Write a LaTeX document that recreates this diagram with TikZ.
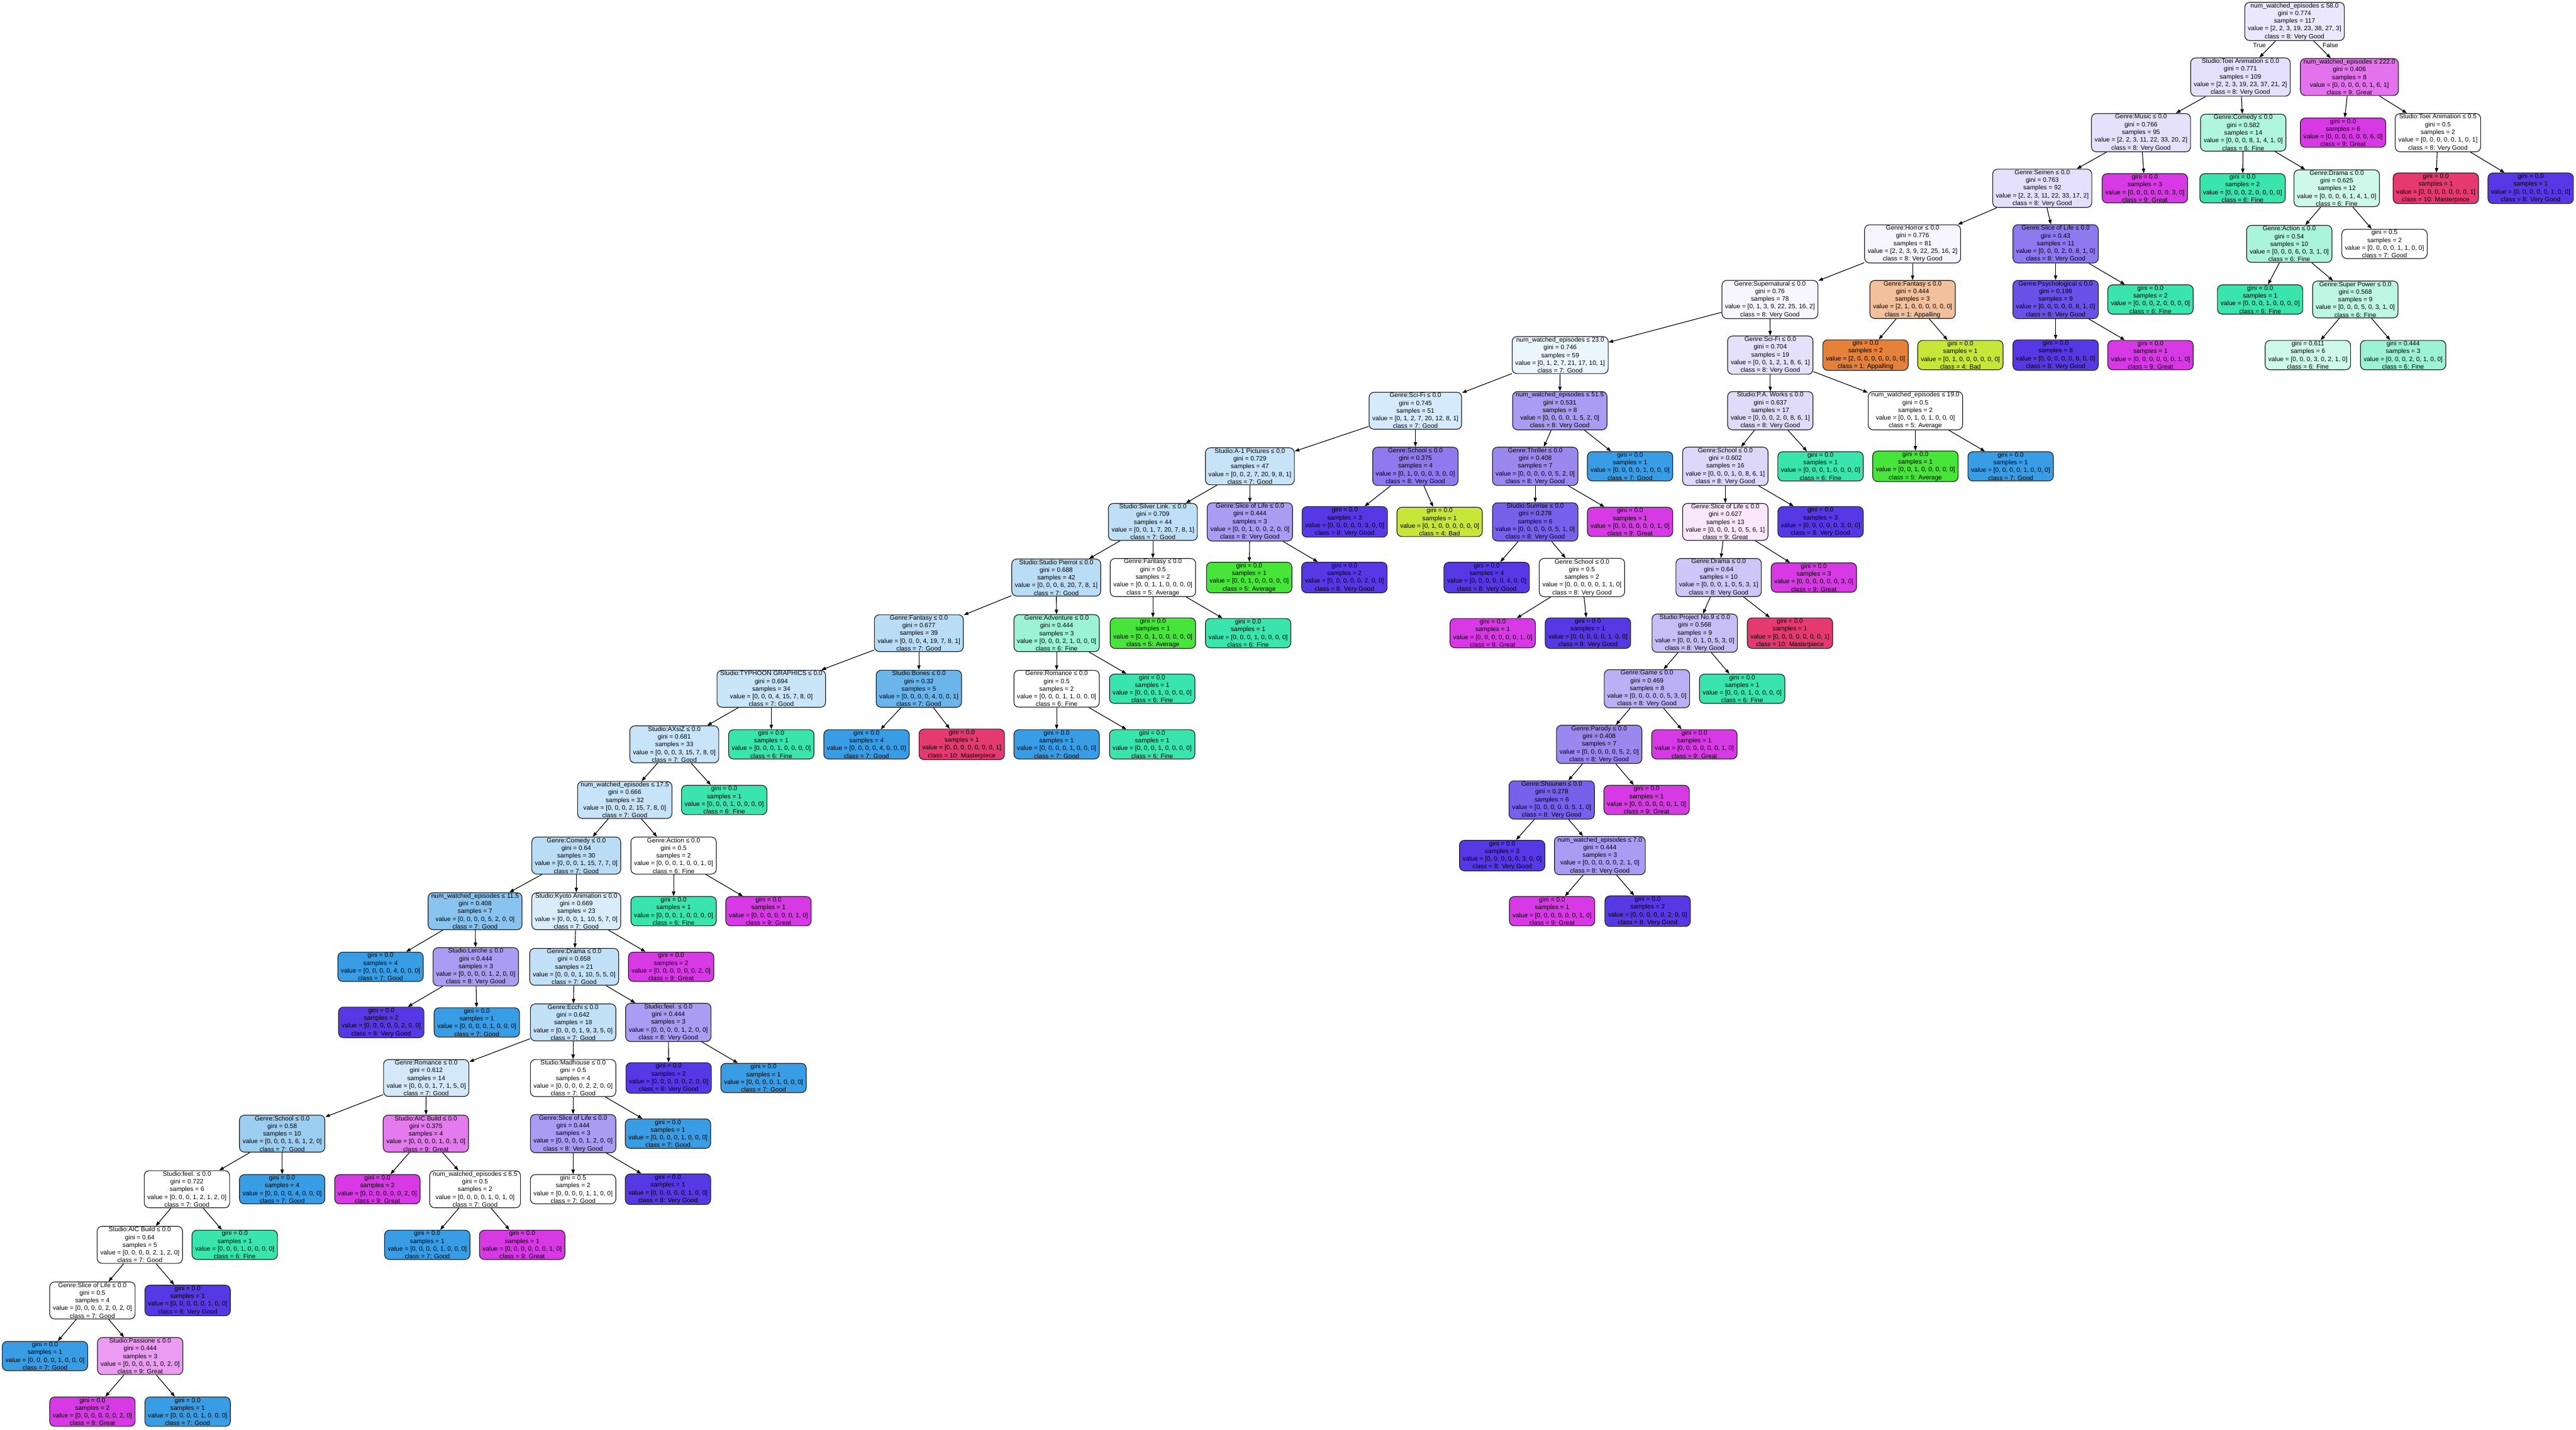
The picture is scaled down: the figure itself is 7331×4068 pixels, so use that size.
\documentclass[tikz,border=0pt]{standalone}
\usepackage{fontspec}
\setmainfont{Liberation Sans}
\usetikzlibrary{arrows.meta}
\definecolor{clAppal}{RGB}{229,129,57}
\definecolor{clBad}{RGB}{200,229,57}
\definecolor{clAvg}{RGB}{71,229,57}
\definecolor{clFine}{RGB}{57,229,172}
\definecolor{clGood}{RGB}{57,157,229}
\definecolor{clVG}{RGB}{86,57,229}
\definecolor{clGreat}{RGB}{215,57,229}
\definecolor{clMaster}{RGB}{229,57,114}
\tikzset{
  box/.style={draw=black!85, line width=0.6pt, rounded corners=0.14cm, align=center,
    font=\fontsize{5.15}{6.24}\selectfont, inner xsep=0.09cm, inner ysep=0.6pt},
  edge/.style={line width=0.55pt, -{Triangle[length=0.13cm,width=0.095cm]}},
  lbl/.style={font=\fontsize{5.15}{6.24}\selectfont, inner sep=0pt}
}
\newcommand{\DecNode}[9]{\node[box,fill=#4] (#1) at (#2,{61+158.2*#3}) {#5\\gini = #6\\samples = #7\\value = [#8]\\class = #9};}
\newcommand{\LeafNode}[8]{\node[box,fill=#4] (#1) at (#2,{61+158.2*#3}) {gini = #5\\samples = #6\\value = [#7]\\class = #8};}
\begin{document}
\begin{tikzpicture}[x=0.01cm,y=-0.01cm]
\fill[white] (0,0) rectangle (7331,4068);
\useasboundingbox (0,0) rectangle (7331,4068);
\DecNode{n0}{6530}{0}{clVG!12!white}{num\_watched\_episodes ≤ 58.0}{0.774}{117}{2, 2, 3, 19, 23, 38, 27, 3}{8: Very Good}
\DecNode{n1}{6376}{1}{clVG!16!white}{Studio:Toei Animation ≤ 0.0}{0.771}{109}{2, 2, 3, 19, 23, 37, 21, 2}{8: Very Good}
\DecNode{n2}{6686}{1}{clGreat!71!white}{num\_watched\_episodes ≤ 222.0}{0.406}{8}{0, 0, 0, 0, 0, 1, 6, 1}{9: Great}
\DecNode{n3}{6093}{2}{clVG!15!white}{Genre:Music ≤ 0.0}{0.766}{95}{2, 2, 3, 11, 22, 33, 20, 2}{8: Very Good}
\DecNode{n4}{6384}{2}{clFine!40!white}{Genre:Comedy ≤ 0.0}{0.582}{14}{0, 0, 0, 8, 1, 4, 1, 0}{6: Fine}
\LeafNode{n5}{6668}{2}{clGreat}{0.0}{6}{0, 0, 0, 0, 0, 0, 6, 0}{9: Great}
\DecNode{n6}{6938}{2}{white}{Studio:Toei Animation ≤ 0.5}{0.5}{2}{0, 0, 0, 0, 0, 1, 0, 1}{8: Very Good}
\DecNode{n7}{5812}{3}{clVG!16!white}{Genre:Seinen ≤ 0.0}{0.763}{92}{2, 2, 3, 11, 22, 33, 17, 2}{8: Very Good}
\LeafNode{n8}{6104}{3}{clGreat}{0.0}{3}{0, 0, 0, 0, 0, 0, 3, 0}{9: Great}
\LeafNode{n9}{6382}{3}{clFine}{0.0}{2}{0, 0, 0, 2, 0, 0, 0, 0}{6: Fine}
\DecNode{n10}{6650}{3}{clFine!25!white}{Genre:Drama ≤ 0.0}{0.625}{12}{0, 0, 0, 6, 1, 4, 1, 0}{6: Fine}
\LeafNode{n11}{6932}{3}{clMaster}{0.0}{1}{0, 0, 0, 0, 0, 0, 0, 1}{10: Masterpiece}
\LeafNode{n12}{7202}{3}{clVG}{0.0}{1}{0, 0, 0, 0, 0, 1, 0, 0}{8: Very Good}
\DecNode{n13}{5443}{4}{clVG!5!white}{Genre:Horror ≤ 0.0}{0.776}{81}{2, 2, 3, 9, 22, 25, 16, 2}{8: Very Good}
\DecNode{n14}{5850}{4}{clVG!67!white}{Genre:Slice of Life ≤ 0.0}{0.43}{11}{0, 0, 0, 2, 0, 8, 1, 0}{8: Very Good}
\DecNode{n15}{6515}{4}{clFine!43!white}{Genre:Action ≤ 0.0}{0.54}{10}{0, 0, 0, 6, 0, 3, 1, 0}{6: Fine}
\LeafNode{n16}{6786}{4}{white}{0.5}{2}{0, 0, 0, 0, 1, 1, 0, 0}{7: Good}
\DecNode{n17}{5037}{5}{clVG!5!white}{Genre:Supernatural ≤ 0.0}{0.76}{78}{0, 1, 3, 9, 22, 25, 16, 2}{8: Very Good}
\DecNode{n18}{5443}{5}{clAppal!50!white}{Genre:Fantasy ≤ 0.0}{0.444}{3}{2, 1, 0, 0, 0, 0, 0, 0}{1: Appalling}
\DecNode{n19}{5850}{5}{clVG!88!white}{Genre:Psychological ≤ 0.0}{0.198}{9}{0, 0, 0, 0, 0, 8, 1, 0}{8: Very Good}
\LeafNode{n20}{6120}{5}{clFine}{0.0}{2}{0, 0, 0, 2, 0, 0, 0, 0}{6: Fine}
\LeafNode{n21}{6432}{5}{clFine}{0.0}{1}{0, 0, 0, 1, 0, 0, 0, 0}{6: Fine}
\DecNode{n22}{6703}{5}{clFine!33!white}{Genre:Super Power ≤ 0.0}{0.568}{9}{0, 0, 0, 5, 0, 3, 1, 0}{6: Fine}
\DecNode{n23}{4440}{6}{clGood!10!white}{num\_watched\_episodes ≤ 23.0}{0.746}{59}{0, 1, 2, 7, 21, 17, 10, 1}{7: Good}
\DecNode{n24}{5038}{6}{clVG!15!white}{Genre:Sci-Fi ≤ 0.0}{0.704}{19}{0, 0, 1, 2, 1, 8, 6, 1}{8: Very Good}
\LeafNode{n25}{5309}{6}{clAppal}{0.0}{2}{2, 0, 0, 0, 0, 0, 0, 0}{1: Appalling}
\LeafNode{n26}{5579}{6}{clBad}{0.0}{1}{0, 1, 0, 0, 0, 0, 0, 0}{4: Bad}
\LeafNode{n27}{5850}{6}{clVG}{0.0}{8}{0, 0, 0, 0, 0, 8, 0, 0}{8: Very Good}
\LeafNode{n28}{6120}{6}{clGreat}{0.0}{1}{0, 0, 0, 0, 0, 0, 1, 0}{9: Great}
\LeafNode{n29}{6568}{6}{clFine!25!white}{0.611}{6}{0, 0, 0, 3, 0, 2, 1, 0}{6: Fine}
\LeafNode{n30}{6839}{6}{clFine!50!white}{0.444}{3}{0, 0, 0, 2, 0, 1, 0, 0}{6: Fine}
\DecNode{n31}{4028}{7}{clGood!21!white}{Genre:Sci-Fi ≤ 0.0}{0.745}{51}{0, 1, 2, 7, 20, 12, 8, 1}{7: Good}
\DecNode{n32}{4439}{7}{clVG!50!white}{num\_watched\_episodes ≤ 51.5}{0.531}{8}{0, 0, 0, 0, 1, 5, 2, 0}{8: Very Good}
\DecNode{n33}{5038}{7}{clVG!18!white}{Studio:P.A. Works ≤ 0.0}{0.637}{17}{0, 0, 0, 2, 0, 8, 6, 1}{8: Very Good}
\DecNode{n34}{5451}{7}{white}{num\_watched\_episodes ≤ 19.0}{0.5}{2}{0, 0, 1, 0, 1, 0, 0, 0}{5: Average}
\DecNode{n35}{3557}{8}{clGood!29!white}{Studio:A-1 Pictures ≤ 0.0}{0.729}{47}{0, 0, 2, 7, 20, 9, 8, 1}{7: Good}
\DecNode{n36}{4028}{8}{clVG!67!white}{Genre:School ≤ 0.0}{0.375}{4}{0, 1, 0, 0, 0, 3, 0, 0}{8: Very Good}
\DecNode{n37}{4369}{8}{clVG!60!white}{Genre:Thriller ≤ 0.0}{0.408}{7}{0, 0, 0, 0, 0, 5, 2, 0}{8: Very Good}
\LeafNode{n38}{4639}{8}{clGood}{0.0}{1}{0, 0, 0, 0, 1, 0, 0, 0}{7: Good}
\DecNode{n39}{4910}{8}{clVG!20!white}{Genre:School ≤ 0.0}{0.602}{16}{0, 0, 0, 1, 0, 8, 6, 1}{8: Very Good}
\LeafNode{n40}{5181}{8}{clFine}{0.0}{1}{0, 0, 0, 1, 0, 0, 0, 0}{6: Fine}
\LeafNode{n41}{5451}{8}{clAvg}{0.0}{1}{0, 0, 1, 0, 0, 0, 0, 0}{5: Average}
\LeafNode{n42}{5722}{8}{clGood}{0.0}{1}{0, 0, 0, 0, 1, 0, 0, 0}{7: Good}
\DecNode{n43}{3281}{9}{clGood!33!white}{Studio:Silver Link. ≤ 0.0}{0.709}{44}{0, 0, 1, 7, 20, 7, 8, 1}{7: Good}
\DecNode{n44}{3557}{9}{clVG!50!white}{Genre:Slice of Life ≤ 0.0}{0.444}{3}{0, 0, 1, 0, 0, 2, 0, 0}{8: Very Good}
\LeafNode{n45}{3827}{9}{clVG}{0.0}{3}{0, 0, 0, 0, 0, 3, 0, 0}{8: Very Good}
\LeafNode{n46}{4097}{9}{clBad}{0.0}{1}{0, 1, 0, 0, 0, 0, 0, 0}{4: Bad}
\DecNode{n47}{4369}{9}{clVG!80!white}{Studio:Sunrise ≤ 0.0}{0.278}{6}{0, 0, 0, 0, 0, 5, 1, 0}{8: Very Good}
\LeafNode{n48}{4639}{9}{clGreat}{0.0}{1}{0, 0, 0, 0, 0, 0, 1, 0}{9: Great}
\DecNode{n49}{4910}{9}{clGreat!12!white}{Genre:Slice of Life ≤ 0.0}{0.627}{13}{0, 0, 0, 1, 0, 5, 6, 1}{9: Great}
\LeafNode{n50}{5181}{9}{clVG}{0.0}{3}{0, 0, 0, 0, 0, 3, 0, 0}{8: Very Good}
\DecNode{n51}{3006}{10}{clGood!35!white}{Studio:Studio Pierrot ≤ 0.0}{0.688}{42}{0, 0, 0, 6, 20, 7, 8, 1}{7: Good}
\DecNode{n52}{3281}{10}{white}{Genre:Fantasy ≤ 0.0}{0.5}{2}{0, 0, 1, 1, 0, 0, 0, 0}{5: Average}
\LeafNode{n53}{3555}{10}{clAvg}{0.0}{1}{0, 0, 1, 0, 0, 0, 0, 0}{5: Average}
\LeafNode{n54}{3826}{10}{clVG}{0.0}{2}{0, 0, 0, 0, 0, 2, 0, 0}{8: Very Good}
\LeafNode{n55}{4231}{10}{clVG}{0.0}{4}{0, 0, 0, 0, 0, 4, 0, 0}{8: Very Good}
\DecNode{n56}{4502}{10}{white}{Genre:School ≤ 0.0}{0.5}{2}{0, 0, 0, 0, 0, 1, 1, 0}{8: Very Good}
\DecNode{n57}{4891}{10}{clVG!29!white}{Genre:Drama ≤ 0.0}{0.64}{10}{0, 0, 0, 1, 0, 5, 3, 1}{8: Very Good}
\LeafNode{n58}{5162}{10}{clGreat}{0.0}{3}{0, 0, 0, 0, 0, 0, 3, 0}{9: Great}
\DecNode{n59}{2615}{11}{clGood!35!white}{Genre:Fantasy ≤ 0.0}{0.677}{39}{0, 0, 0, 4, 19, 7, 8, 1}{7: Good}
\DecNode{n60}{3007}{11}{clFine!50!white}{Genre:Adventure ≤ 0.0}{0.444}{3}{0, 0, 0, 2, 1, 0, 0, 0}{6: Fine}
\LeafNode{n61}{3281}{11}{clAvg}{0.0}{1}{0, 0, 1, 0, 0, 0, 0, 0}{5: Average}
\LeafNode{n62}{3552}{11}{clFine}{0.0}{1}{0, 0, 0, 1, 0, 0, 0, 0}{6: Fine}
\LeafNode{n63}{4248}{11}{clGreat}{0.0}{1}{0, 0, 0, 0, 0, 0, 1, 0}{9: Great}
\LeafNode{n64}{4519}{11}{clVG}{0.0}{1}{0, 0, 0, 0, 0, 1, 0, 0}{8: Very Good}
\DecNode{n65}{4823}{11}{clVG!33!white}{Studio:Project No.9 ≤ 0.0}{0.568}{9}{0, 0, 0, 1, 0, 5, 3, 0}{8: Very Good}
\LeafNode{n66}{5094}{11}{clMaster}{0.0}{1}{0, 0, 0, 0, 0, 0, 0, 1}{10: Masterpiece}
\DecNode{n67}{2195}{12}{clGood!27!white}{Studio:TYPHOON GRAPHICS ≤ 0.0}{0.694}{34}{0, 0, 0, 4, 15, 7, 8, 0}{7: Good}
\DecNode{n68}{2615}{12}{clGood!75!white}{Studio:Bones ≤ 0.0}{0.32}{5}{0, 0, 0, 0, 4, 0, 0, 1}{7: Good}
\DecNode{n69}{3007}{12}{white}{Genre:Romance ≤ 0.0}{0.5}{2}{0, 0, 0, 1, 1, 0, 0, 0}{6: Fine}
\LeafNode{n70}{3279}{12}{clFine}{0.0}{1}{0, 0, 0, 1, 0, 0, 0, 0}{6: Fine}
\DecNode{n71}{4687}{12}{clVG!40!white}{Genre:Game ≤ 0.0}{0.469}{8}{0, 0, 0, 0, 0, 5, 3, 0}{8: Very Good}
\LeafNode{n72}{4958}{12}{clFine}{0.0}{1}{0, 0, 0, 1, 0, 0, 0, 0}{6: Fine}
\DecNode{n73}{1919}{13}{clGood!28!white}{Studio:AXsiZ ≤ 0.0}{0.681}{33}{0, 0, 0, 3, 15, 7, 8, 0}{7: Good}
\LeafNode{n74}{2195}{13}{clFine}{0.0}{1}{0, 0, 0, 1, 0, 0, 0, 0}{6: Fine}
\LeafNode{n75}{2466}{13}{clGood}{0.0}{4}{0, 0, 0, 0, 4, 0, 0, 0}{7: Good}
\LeafNode{n76}{2737}{13}{clMaster}{0.0}{1}{0, 0, 0, 0, 0, 0, 0, 1}{10: Masterpiece}
\LeafNode{n77}{3007}{13}{clGood}{0.0}{1}{0, 0, 0, 0, 1, 0, 0, 0}{7: Good}
\LeafNode{n78}{3279}{13}{clFine}{0.0}{1}{0, 0, 0, 1, 0, 0, 0, 0}{6: Fine}
\DecNode{n79}{4551}{13}{clVG!60!white}{Genre:Parody ≤ 0.0}{0.408}{7}{0, 0, 0, 0, 0, 5, 2, 0}{8: Very Good}
\LeafNode{n80}{4822}{13}{clGreat}{0.0}{1}{0, 0, 0, 0, 0, 0, 1, 0}{9: Great}
\DecNode{n81}{1778}{14}{clGood!29!white}{num\_watched\_episodes ≤ 17.5}{0.666}{32}{0, 0, 0, 2, 15, 7, 8, 0}{7: Good}
\LeafNode{n82}{2061}{14}{clFine}{0.0}{1}{0, 0, 0, 1, 0, 0, 0, 0}{6: Fine}
\DecNode{n83}{4416}{14}{clVG!80!white}{Genre:Shounen ≤ 0.0}{0.278}{6}{0, 0, 0, 0, 0, 5, 1, 0}{8: Very Good}
\LeafNode{n84}{4686}{14}{clGreat}{0.0}{1}{0, 0, 0, 0, 0, 0, 1, 0}{9: Great}
\DecNode{n85}{1640}{15}{clGood!35!white}{Genre:Comedy ≤ 0.0}{0.64}{30}{0, 0, 0, 1, 15, 7, 7, 0}{7: Good}
\DecNode{n86}{1917}{15}{white}{Genre:Action ≤ 0.0}{0.5}{2}{0, 0, 0, 1, 0, 0, 1, 0}{6: Fine}
\LeafNode{n87}{4275}{15}{clVG}{0.0}{3}{0, 0, 0, 0, 0, 3, 0, 0}{8: Very Good}
\DecNode{n88}{4553}{15}{clVG!50!white}{num\_watched\_episodes ≤ 7.0}{0.444}{3}{0, 0, 0, 0, 0, 2, 1, 0}{8: Very Good}
\DecNode{n89}{1352}{16}{clGood!60!white}{num\_watched\_episodes ≤ 11.5}{0.408}{7}{0, 0, 0, 0, 5, 2, 0, 0}{7: Good}
\DecNode{n90}{1640}{16}{clGood!19!white}{Studio:Kyoto Animation ≤ 0.0}{0.669}{23}{0, 0, 0, 1, 10, 5, 7, 0}{7: Good}
\LeafNode{n91}{1917}{16}{clFine}{0.0}{1}{0, 0, 0, 1, 0, 0, 0, 0}{6: Fine}
\LeafNode{n92}{2187}{16}{clGreat}{0.0}{1}{0, 0, 0, 0, 0, 0, 1, 0}{9: Great}
\LeafNode{n93}{4417}{16}{clGreat}{0.0}{1}{0, 0, 0, 0, 0, 0, 1, 0}{9: Great}
\LeafNode{n94}{4689}{16}{clVG}{0.0}{2}{0, 0, 0, 0, 0, 2, 0, 0}{8: Very Good}
\LeafNode{n95}{1083}{17}{clGood}{0.0}{4}{0, 0, 0, 0, 4, 0, 0, 0}{7: Good}
\DecNode{n96}{1354}{17}{clVG!50!white}{Studio:Lerche ≤ 0.0}{0.444}{3}{0, 0, 0, 0, 1, 2, 0, 0}{8: Very Good}
\DecNode{n97}{1634}{17}{clGood!31!white}{Genre:Drama ≤ 0.0}{0.658}{21}{0, 0, 0, 1, 10, 5, 5, 0}{7: Good}
\LeafNode{n98}{1910}{17}{clGreat}{0.0}{2}{0, 0, 0, 0, 0, 0, 2, 0}{9: Great}
\LeafNode{n99}{1085}{18}{clVG}{0.0}{2}{0, 0, 0, 0, 0, 2, 0, 0}{8: Very Good}
\LeafNode{n100}{1357}{18}{clGood}{0.0}{1}{0, 0, 0, 0, 1, 0, 0, 0}{7: Good}
\DecNode{n101}{1631}{18}{clGood!31!white}{Genre:Ecchi ≤ 0.0}{0.642}{18}{0, 0, 0, 1, 9, 3, 5, 0}{7: Good}
\DecNode{n102}{1902}{18}{clVG!50!white}{Studio:feel. ≤ 0.0}{0.444}{3}{0, 0, 0, 0, 1, 2, 0, 0}{8: Very Good}
\DecNode{n103}{1213}{19}{clGood!22!white}{Genre:Romance ≤ 0.0}{0.612}{14}{0, 0, 0, 1, 7, 1, 5, 0}{7: Good}
\DecNode{n104}{1631}{19}{white}{Studio:Madhouse ≤ 0.0}{0.5}{4}{0, 0, 0, 0, 2, 2, 0, 0}{7: Good}
\LeafNode{n105}{1903}{19}{clVG}{0.0}{2}{0, 0, 0, 0, 0, 2, 0, 0}{8: Very Good}
\LeafNode{n106}{2173}{19}{clGood}{0.0}{1}{0, 0, 0, 0, 1, 0, 0, 0}{7: Good}
\DecNode{n107}{803}{20}{clGood!50!white}{Genre:School ≤ 0.0}{0.58}{10}{0, 0, 0, 1, 6, 1, 2, 0}{7: Good}
\DecNode{n108}{1212}{20}{clGreat!67!white}{Studio:AIC Build ≤ 0.0}{0.375}{4}{0, 0, 0, 0, 1, 0, 3, 0}{9: Great}
\DecNode{n109}{1631}{20}{clVG!50!white}{Genre:Slice of Life ≤ 0.0}{0.444}{3}{0, 0, 0, 0, 1, 2, 0, 0}{8: Very Good}
\LeafNode{n110}{1901}{20}{clGood}{0.0}{1}{0, 0, 0, 0, 1, 0, 0, 0}{7: Good}
\DecNode{n111}{532}{21}{white}{Studio:feel. ≤ 0.0}{0.722}{6}{0, 0, 0, 1, 2, 1, 2, 0}{7: Good}
\LeafNode{n112}{803}{21}{clGood}{0.0}{4}{0, 0, 0, 0, 4, 0, 0, 0}{7: Good}
\LeafNode{n113}{1074}{21}{clGreat}{0.0}{2}{0, 0, 0, 0, 0, 0, 2, 0}{9: Great}
\DecNode{n114}{1352}{21}{white}{num\_watched\_episodes ≤ 6.5}{0.5}{2}{0, 0, 0, 0, 1, 0, 1, 0}{7: Good}
\LeafNode{n115}{1631}{21}{white}{0.5}{2}{0, 0, 0, 0, 1, 1, 0, 0}{7: Good}
\LeafNode{n116}{1901}{21}{clVG}{0.0}{1}{0, 0, 0, 0, 0, 1, 0, 0}{8: Very Good}
\DecNode{n117}{398}{22}{white}{Studio:AIC Build ≤ 0.0}{0.64}{5}{0, 0, 0, 0, 2, 1, 2, 0}{7: Good}
\LeafNode{n118}{668}{22}{clFine}{0.0}{1}{0, 0, 0, 1, 0, 0, 0, 0}{6: Fine}
\LeafNode{n119}{1216}{22}{clGood}{0.0}{1}{0, 0, 0, 0, 1, 0, 0, 0}{7: Good}
\LeafNode{n120}{1486}{22}{clGreat}{0.0}{1}{0, 0, 0, 0, 0, 0, 1, 0}{9: Great}
\DecNode{n121}{263}{23}{white}{Genre:Slice of Life ≤ 0.0}{0.5}{4}{0, 0, 0, 0, 2, 0, 2, 0}{7: Good}
\LeafNode{n122}{534}{23}{clVG}{0.0}{1}{0, 0, 0, 0, 0, 1, 0, 0}{8: Very Good}
\LeafNode{n123}{128}{24}{clGood}{0.0}{1}{0, 0, 0, 0, 1, 0, 0, 0}{7: Good}
\DecNode{n124}{399}{24}{clGreat!50!white}{Studio:Passione ≤ 0.0}{0.444}{3}{0, 0, 0, 0, 1, 0, 2, 0}{9: Great}
\LeafNode{n125}{263}{25}{clGreat}{0.0}{2}{0, 0, 0, 0, 0, 0, 2, 0}{9: Great}
\LeafNode{n126}{534}{25}{clGood}{0.0}{1}{0, 0, 0, 0, 1, 0, 0, 0}{7: Good}
\node[lbl] (ltrue) at (6430,129) {True};
\node[lbl] (lfalse) at (6632,129) {False};
\foreach \p/\c in {n0/n1,n0/n2,n1/n3,n1/n4,n2/n5,n2/n6,n3/n7,n3/n8,n4/n9,n4/n10,
  n6/n11,n6/n12,n7/n13,n7/n14,n10/n15,n10/n16,n13/n17,n13/n18,n14/n19,n14/n20,
  n15/n21,n15/n22,n17/n23,n17/n24,n18/n25,n18/n26,n19/n27,n19/n28,n22/n29,n22/n30,
  n23/n31,n23/n32,n24/n33,n24/n34,n31/n35,n31/n36,n32/n37,n32/n38,n33/n39,n33/n40,
  n34/n41,n34/n42,n35/n43,n35/n44,n36/n45,n36/n46,n37/n47,n37/n48,n39/n49,n39/n50,
  n43/n51,n43/n52,n44/n53,n44/n54,n47/n55,n47/n56,n49/n57,n49/n58,n51/n59,n51/n60,
  n52/n61,n52/n62,n56/n63,n56/n64,n57/n65,n57/n66,n59/n67,n59/n68,n60/n69,n60/n70,
  n65/n71,n65/n72,n67/n73,n67/n74,n68/n75,n68/n76,n69/n77,n69/n78,n71/n79,n71/n80,
  n73/n81,n73/n82,n79/n83,n79/n84,n81/n85,n81/n86,n83/n87,n83/n88,n85/n89,n85/n90,
  n86/n91,n86/n92,n88/n93,n88/n94,n89/n95,n89/n96,n90/n97,n90/n98,n96/n99,n96/n100,
  n97/n101,n97/n102,n101/n103,n101/n104,n102/n105,n102/n106,n103/n107,n103/n108,
  n104/n109,n104/n110,n107/n111,n107/n112,n108/n113,n108/n114,n109/n115,n109/n116,
  n111/n117,n111/n118,n114/n119,n114/n120,n117/n121,n117/n122,n121/n123,n121/n124,
  n124/n125,n124/n126}
  \draw[edge] (\p) -- (\c);
\end{tikzpicture}
\end{document}
